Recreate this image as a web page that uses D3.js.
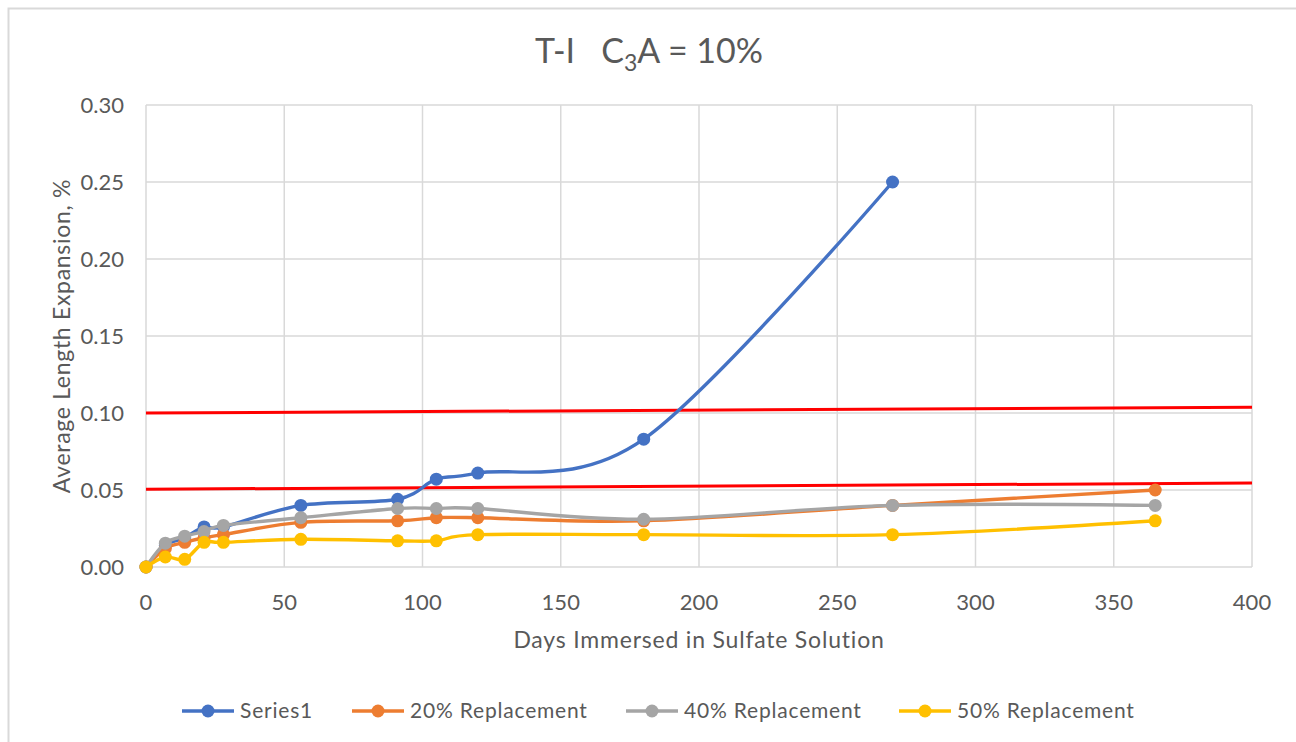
<!DOCTYPE html>
<html>
<head>
<meta charset="utf-8">
<script src="https://cdn.jsdelivr.net/npm/d3@7"></script>
<style>
  body { margin: 0; background: #fff; }
  text { font-family: Lato, "Open Sans", sans-serif; fill: #595959; }
</style>
</head>
<body>
<div id="chart"></div>
<script>
// data
var days = [0, 7, 14, 21, 28, 56, 91, 105, 120, 180, 270, 365];
var series1 = [0, 0.014, 0.019, 0.026, 0.026, 0.040, 0.044, 0.057, 0.061, 0.083, 0.250];
var rep20 = [0, 0.012, 0.016, 0.019, 0.021, 0.029, 0.030, 0.032, 0.032, 0.030, 0.040, 0.050];
var rep40 = [0, 0.0155, 0.020, 0.023, 0.027, 0.032, 0.038, 0.038, 0.038, 0.031, 0.040, 0.040];
var rep50 = [0, 0.0065, 0.005, 0.016, 0.016, 0.018, 0.017, 0.017, 0.021, 0.021, 0.021, 0.030];
var seriesNames = ["Series1", "20% Replacement", "40% Replacement", "50% Replacement"];
var seriesColors = ["#4472C4", "#ED7D31", "#A5A5A5", "#FFC000"];
var xTicks = [0, 50, 100, 150, 200, 250, 300, 350, 400];
var yTicks = [0, 0.05, 0.10, 0.15, 0.20, 0.25, 0.30];
// red limit lines, drawn by hand in the original (slightly tilted)
var limitLines = [
  [[0, 0.100], [400, 0.1037]],
  [[0, 0.0505], [400, 0.0545]]
];

var W = 1296, H = 742;
var svg = d3.select("#chart").append("svg")
  .attr("width", W).attr("height", H);

// outer chart border
svg.append("rect")
  .attr("x", 8.5).attr("y", 8.5)
  .attr("width", W + 20).attr("height", H + 20)
  .attr("fill", "none").attr("stroke", "#d9d9d9").attr("stroke-width", 2);

var x = d3.scaleLinear().domain([0, 400]).range([146, 1252]);
var y = d3.scaleLinear().domain([0, 0.30]).range([567, 105]);

// gridlines
svg.append("g").selectAll("line").data(yTicks).enter().append("line")
  .attr("x1", x(0)).attr("x2", x(400))
  .attr("y1", d => y(d)).attr("y2", d => y(d))
  .attr("stroke", "#d9d9d9").attr("stroke-width", 1.5);
svg.append("g").selectAll("line").data(xTicks).enter().append("line")
  .attr("x1", d => x(d)).attr("x2", d => x(d))
  .attr("y1", y(0)).attr("y2", y(0.30))
  .attr("stroke", "#d9d9d9").attr("stroke-width", 1.5);

// tick labels
svg.append("g").selectAll("text").data(yTicks).enter().append("text")
  .attr("x", 124).attr("y", d => y(d) + 8)
  .attr("text-anchor", "end")
  .style("font-size", "22px")
  .text(d => d3.format(".2f")(d));
svg.append("g").selectAll("text").data(xTicks).enter().append("text")
  .attr("x", d => x(d)).attr("y", 610)
  .attr("text-anchor", "middle")
  .style("font-size", "22px")
  .text(d => d);

// title
var title = svg.append("text")
  .attr("x", 649).attr("y", 63)
  .attr("text-anchor", "middle")
  .style("font-size", "34px");
title.append("tspan").text("T-I\u00a0\u00a0\u00a0C");
title.append("tspan").attr("dy", 8).style("font-size", "23px").text("3");
title.append("tspan").attr("dy", -8).text("A = 10%");

// axis titles
svg.append("text")
  .attr("x", 699).attr("y", 648)
  .attr("text-anchor", "middle")
  .style("font-size", "23px")
  .style("letter-spacing", "0.8px")
  .text("Days Immersed in Sulfate Solution");
svg.append("text")
  .attr("transform", "translate(70," + y(0.15) + ") rotate(-90)")
  .attr("text-anchor", "middle")
  .style("font-size", "23px")
  .style("letter-spacing", "0.7px")
  .text("Average Length Expansion, %");

// red lines
var straight = d3.line().x(d => x(d[0])).y(d => y(d[1]));
svg.append("g").selectAll("path").data(limitLines).enter().append("path")
  .attr("d", straight)
  .attr("fill", "none").attr("stroke", "#FF0000").attr("stroke-width", 3);

// series
var allSeries = [series1, rep20, rep40, rep50];
var smooth = d3.line()
  .x((d, i) => x(days[i]))
  .y(d => y(d))
  .curve(d3.curveCardinal.tension(0));

allSeries.forEach(function(vals, k) {
  var g = svg.append("g");
  g.append("path")
    .attr("d", smooth(vals))
    .attr("fill", "none")
    .attr("stroke", seriesColors[k])
    .attr("stroke-width", 3.4);
  g.selectAll("circle").data(vals).enter().append("circle")
    .attr("cx", (d, i) => x(days[i]))
    .attr("cy", d => y(d))
    .attr("r", 6.5)
    .attr("fill", seriesColors[k]);
});

// legend
var legX = [182, 352, 626, 899];
var leg = svg.append("g").selectAll("g").data(seriesNames).enter().append("g")
  .attr("transform", (d, i) => "translate(" + legX[i] + ",711)");
leg.append("line")
  .attr("x1", 0).attr("x2", 52).attr("y1", 0).attr("y2", 0)
  .attr("stroke", (d, i) => seriesColors[i]).attr("stroke-width", 3.4);
leg.append("circle")
  .attr("cx", 26).attr("cy", 0).attr("r", 6.5)
  .attr("fill", (d, i) => seriesColors[i]);
leg.append("text")
  .attr("x", 58).attr("y", 7)
  .style("font-size", "21px")
  .style("letter-spacing", "0.8px")
  .text(d => d);
</script>
</body>
</html>
